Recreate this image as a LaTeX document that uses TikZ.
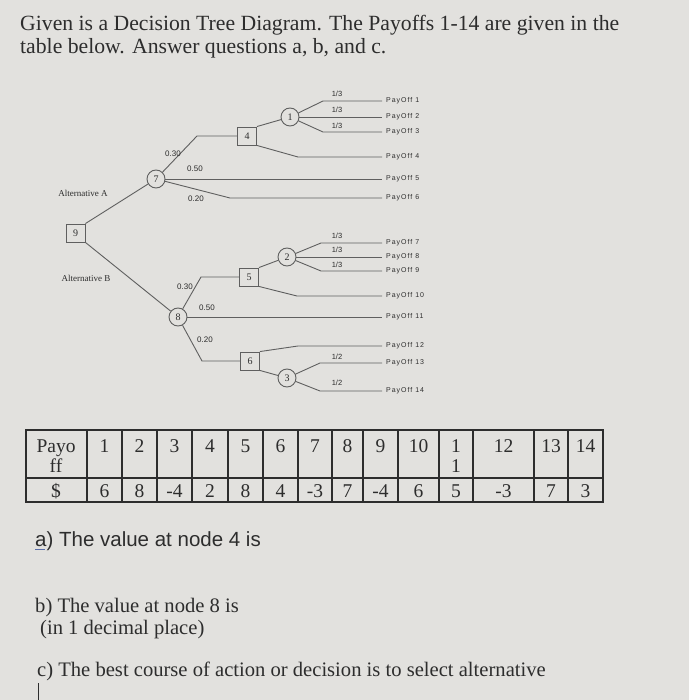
\documentclass[tikz,border=0pt]{standalone}
\usepackage{fontspec}
\setmainfont{Liberation Serif}
\newfontfamily\sfA{Liberation Sans}
\newfontfamily\poff[LetterSpace=14]{Liberation Sans}
\definecolor{bg}{RGB}{226,225,222}
\definecolor{ink}{RGB}{45,45,45}
\definecolor{linec}{RGB}{95,95,95}
\begin{document}
\begin{tikzpicture}[x=1pt,y=-1pt,
  conn/.style={draw=linec, line width=0.9pt},
  decbox/.style={draw=linec, line width=0.9pt, rectangle, minimum width=19pt, minimum height=18pt, inner sep=0pt, text=ink, font=\fontsize{10}{10}\selectfont},
  chancebox/.style={draw=linec, line width=0.9pt, circle, minimum size=18pt, inner sep=0pt, text=ink, font=\fontsize{10}{10}\selectfont},
  paylab/.style={anchor=west, inner xsep=4pt, inner ysep=1pt, text=ink, font=\poff\fontsize{7}{8}\selectfont},
  problab/.style={text=ink, inner sep=0pt, font=\sfA\fontsize{8}{9}\selectfont},
  fraclab/.style={text=ink, inner sep=0pt, font=\sfA\fontsize{7.5}{8}\selectfont},
  altlab/.style={text=ink, inner sep=0pt, font=\fontsize{9}{10}\selectfont},
  cell/.style={text=ink, inner sep=0pt, font=\fontsize{19.5}{20}\selectfont, align=center},
  tline/.style={draw=ink, line width=1.1pt},
  title/.style={text=ink, anchor=base west, inner sep=0pt, font=\fontsize{21.7}{22}\selectfont},
  qsans/.style={text=ink, anchor=base west, inner sep=0pt, font=\sfA\fontsize{20.5}{21}\selectfont},
  qserif/.style={text=ink, anchor=base west, inner sep=0pt, font=\fontsize{20.6}{21}\selectfont}
]
\fill[bg] (0,0) rectangle (689,700);
\useasboundingbox (0,0) rectangle (689,700);

% title
\node[title] (t1) at (20,31) {Given is a Decision Tree Diagram. The Payoffs 1-14 are given in the};
\node[title] (t2) at (20,54) {table below. Answer questions a, b, and c.};

% decision and chance nodes
\node[decbox] (n9) at (75.5,233) {9};
\node[chancebox] (n7) at (156,179) {7};
\node[decbox] (n4) at (247,136) {4};
\node[chancebox] (n1) at (290,117) {1};
\node[chancebox] (n8) at (178,317) {8};
\node[decbox] (n5) at (249,277) {5};
\node[decbox] (n6) at (250,361) {6};
\node[chancebox] (n2) at (287,257) {2};
\node[chancebox] (n3) at (287,378) {3};

% payoff labels
\node[paylab] (p1) at (382,101) {PayOff 1};
\node[paylab] (p2) at (382,117) {PayOff 2};
\node[paylab] (p3) at (382,132) {PayOff 3};
\node[paylab] (p4) at (382,157) {PayOff 4};
\node[paylab] (p5) at (382,179) {PayOff 5};
\node[paylab] (p6) at (382,198) {PayOff 6};
\node[paylab] (p7) at (382,243) {PayOff 7};
\node[paylab] (p8) at (382,257) {PayOff 8};
\node[paylab] (p9) at (382,271) {PayOff 9};
\node[paylab] (p10) at (382,296) {PayOff 10};
\node[paylab] (p11) at (382,317) {PayOff 11};
\node[paylab] (p12) at (382,346) {PayOff 12};
\node[paylab] (p13) at (382,363) {PayOff 13};
\node[paylab] (p14) at (382,391) {PayOff 14};

% elbows
\coordinate (e7a) at (197,136);
\coordinate (e7c) at (230,198);
\coordinate (e4b) at (298,157);
\coordinate (e1a) at (323,101);
\coordinate (e1c) at (323,132);
\coordinate (e8a) at (201,277);
\coordinate (e8c) at (202,361);
\coordinate (e5b) at (297,296);
\coordinate (e2a) at (321,243);
\coordinate (e2c) at (321,271);
\coordinate (e6a) at (298,346);
\coordinate (e3a) at (320,363);
\coordinate (e3b) at (320,391);

% connectors
\draw[conn] (n9.north east) -- (n7);
\draw[conn] (n9.south east) -- (n8);
\draw[conn] (n7) -- (e7a) -- (n4);
\draw[conn] (n7) -- (p5);
\draw[conn] (n7) -- (e7c) -- (p6);
\draw[conn] (n4.north east) -- (n1);
\draw[conn] (n4.south east) -- (e4b) -- (p4);
\draw[conn] (n1) -- (e1a) -- (p1);
\draw[conn] (n1) -- (p2);
\draw[conn] (n1) -- (e1c) -- (p3);
\draw[conn] (n8) -- (e8a) -- (n5);
\draw[conn] (n8) -- (p11);
\draw[conn] (n8) -- (e8c) -- (n6);
\draw[conn] (n5.north east) -- (n2);
\draw[conn] (n5.south east) -- (e5b) -- (p10);
\draw[conn] (n2) -- (e2a) -- (p7);
\draw[conn] (n2) -- (p8);
\draw[conn] (n2) -- (e2c) -- (p9);
\draw[conn] (n6.north east) -- (e6a) -- (p12);
\draw[conn] (n6.south east) -- (n3);
\draw[conn] (n3) -- (e3a) -- (p13);
\draw[conn] (n3) -- (e3b) -- (p14);

% branch labels
\node[altlab] (altA) at (83,193) {Alternative A};
\node[altlab] (altB) at (86,278) {Alternative B};
\node[problab] (q1) at (173,154) {0.30};
\node[problab] (q2) at (195,169) {0.50};
\node[problab] (q3) at (196,199) {0.20};
\node[fraclab] (q4) at (337,94) {1/3};
\node[fraclab] (q5) at (337,110) {1/3};
\node[fraclab] (q6) at (337,126) {1/3};
\node[fraclab] (q7) at (337,236) {1/3};
\node[fraclab] (q8) at (337,250) {1/3};
\node[fraclab] (q9) at (337,265) {1/3};
\node[problab] (q10) at (185,287) {0.30};
\node[problab] (q11) at (207,308) {0.50};
\node[problab] (q12) at (205,340) {0.20};
\node[fraclab] (q13) at (337,357) {1/2};
\node[fraclab] (q14) at (337,383) {1/2};

% table
\draw[tline] (26,430) rectangle (603,502);
\draw[tline] (26,478) -- (603,478);
\foreach \x in {87,122,157,192,228,263,298,332,363,398,439,473,534,568}
  \draw[tline] (\x,430) -- (\x,502);
\node[cell] (h0) at (56,456) {Payo\\ff};
\node[cell] (h1) at (104.5,446) {1};
\node[cell] (h2) at (139.5,446) {2};
\node[cell] (h3) at (174.5,446) {3};
\node[cell] (h4) at (210,446) {4};
\node[cell] (h5) at (245.5,446) {5};
\node[cell] (h6) at (280.5,446) {6};
\node[cell] (h7) at (315,446) {7};
\node[cell] (h8) at (347.5,446) {8};
\node[cell] (h9) at (380.5,446) {9};
\node[cell] (h10) at (418.5,446) {10};
\node[cell] (h11) at (456,456) {1\\1};
\node[cell] (h12) at (503.5,446) {12};
\node[cell] (h13) at (551,446) {13};
\node[cell] (h14) at (585.5,446) {14};
\node[cell] (v0) at (56,491) {\$};
\node[cell] (v1) at (104.5,491) {6};
\node[cell] (v2) at (139.5,491) {8};
\node[cell] (v3) at (174.5,491) {-4};
\node[cell] (v4) at (210,491) {2};
\node[cell] (v5) at (245.5,491) {8};
\node[cell] (v6) at (280.5,491) {4};
\node[cell] (v7) at (315,491) {-3};
\node[cell] (v8) at (347.5,491) {7};
\node[cell] (v9) at (380.5,491) {-4};
\node[cell] (v10) at (418.5,491) {6};
\node[cell] (v11) at (456,491) {5};
\node[cell] (v12) at (503.5,491) {-3};
\node[cell] (v13) at (551,491) {7};
\node[cell] (v14) at (585.5,491) {3};

% questions
\node[qsans] (qa) at (35,546) {a) The value at node 4 is};
\draw[draw={rgb,255:red,90;green,110;blue,170}, line width=1pt] (35,549.5) -- (45,549.5);
\node[qserif] (qb) at (35,612) {b) The value at node 8 is};
\node[qserif] (qb2) at (40,634) {(in 1 decimal place)};
\node[qserif] (qc) at (37,676) {c) The best course of action or decision is to select alternative};
\draw[draw=ink, line width=0.8pt] (38,683) -- (38,700);
\end{tikzpicture}
\end{document}
